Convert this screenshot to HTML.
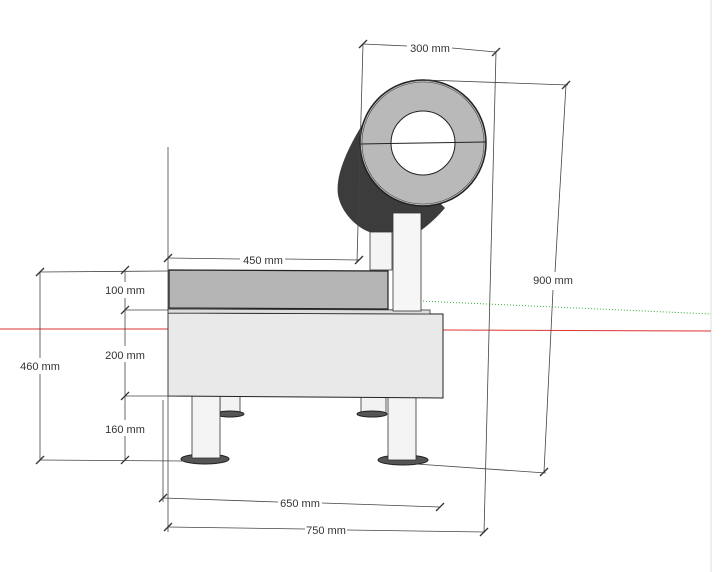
<!DOCTYPE html>
<html><head><meta charset="utf-8"><style>
html,body{margin:0;padding:0;background:#fff;}
svg{display:block;font-family:"Liberation Sans","DejaVu Sans",sans-serif;}
text{font-size:11px;fill:#333;}
</style></head><body>
<svg width="725" height="572" viewBox="0 0 725 572">
<rect width="725" height="572" fill="#fff"/>
<line x1="711" y1="0" x2="711" y2="572" stroke="#ddd" stroke-width="1"/>
<line x1="0" y1="329" x2="168" y2="329" stroke="#d33" stroke-width="1"/>
<line x1="443" y1="330" x2="711" y2="331" stroke="#d33" stroke-width="1"/>
<line x1="420" y1="301" x2="711" y2="314" stroke="#3a3" stroke-width="1" stroke-dasharray="1,2"/>
<rect x="220" y="396" width="20" height="17" fill="#f2f2f2" stroke="#333" stroke-width="0.8"/>
<ellipse cx="230" cy="414" rx="14" ry="3" fill="#555" stroke="#222"/>
<rect x="361" y="396" width="25" height="17" fill="#f2f2f2" stroke="#333" stroke-width="0.8"/>
<ellipse cx="372" cy="414" rx="15" ry="3" fill="#555" stroke="#222"/>
<ellipse cx="205" cy="459" rx="24" ry="5" fill="#555" stroke="#222"/>
<rect x="192" y="396" width="28" height="62" fill="#f4f4f4" stroke="#333" stroke-width="0.8"/>
<ellipse cx="403" cy="460" rx="25" ry="5" fill="#555" stroke="#222"/>
<rect x="388" y="396" width="28" height="64" fill="#f4f4f4" stroke="#333" stroke-width="0.8"/>
<polygon points="168,313 443,314 443,398 168,396" fill="#e9e9e9" stroke="#222" stroke-width="1"/>
<polygon points="168,309 430,310 430,314 168,313" fill="#ddd" stroke="#333" stroke-width="0.8"/>
<path d="M362,125 C348,148 335,175 338,195 C341,212 356,228 372,233 L420,231 C430,224 438,216 445,208 Z" fill="#3c3c3c"/>
<rect x="370" y="232" width="22" height="38" fill="#f4f4f4" stroke="#333" stroke-width="0.8"/>
<polygon points="169,270 388,271 388,309 169,308" fill="#b5b5b5" stroke="#222" stroke-width="1.2"/>
<rect x="393" y="213" width="28" height="98" fill="#f6f6f6" stroke="#333" stroke-width="0.8"/>
<circle cx="423" cy="143" r="63" fill="#b9b9b9" stroke="#222" stroke-width="1.5"/>
<circle cx="423" cy="143" r="61" fill="none" stroke="#444" stroke-width="0.6"/>
<circle cx="423" cy="143" r="32" fill="#fff" stroke="#222" stroke-width="1"/>
<line x1="360" y1="144" x2="486" y2="142" stroke="#222" stroke-width="1"/>
<g stroke="#444" stroke-width="0.8" fill="none">
 <line x1="168" y1="147" x2="168" y2="532"/>
 <line x1="163" y1="400" x2="163" y2="502"/>
 <line x1="363" y1="44" x2="357" y2="262"/>
 <line x1="496" y1="52" x2="484" y2="533"/>
 <line x1="425" y1="80" x2="568" y2="85"/>
 <line x1="416" y1="464" x2="546" y2="473"/>
 <line x1="566" y1="85" x2="555" y2="272"/><line x1="553" y1="290" x2="544" y2="472"/>
 <line x1="363" y1="44" x2="407" y2="46"/><line x1="452" y1="48" x2="496" y2="52"/>
 <line x1="168" y1="258" x2="240" y2="259"/><line x1="285" y1="259" x2="359" y2="260"/>
 <line x1="163" y1="498" x2="278" y2="502"/><line x1="322" y1="503" x2="440" y2="507"/>
 <line x1="168" y1="527" x2="305" y2="529"/><line x1="347" y1="530" x2="484" y2="532"/>
 <line x1="40" y1="272" x2="40" y2="358"/><line x1="40" y1="374" x2="40" y2="460"/>
 <line x1="125" y1="270" x2="125" y2="282"/><line x1="125" y1="298" x2="125" y2="346"/><line x1="125" y1="362" x2="125" y2="420"/><line x1="125" y1="436" x2="125" y2="460"/>
 <line x1="40" y1="272" x2="168" y2="271"/>
 <line x1="40" y1="460" x2="185" y2="461"/>
 <line x1="125" y1="310" x2="168" y2="310"/>
 <line x1="125" y1="396" x2="168" y2="396"/>
</g>
<g stroke="#333" stroke-width="1.3">
 <line x1="359" y1="48" x2="367" y2="40"/><line x1="492" y1="56" x2="500" y2="48"/>
 <line x1="164" y1="262" x2="172" y2="254"/><line x1="355" y1="264" x2="363" y2="256"/>
 <line x1="562" y1="89" x2="570" y2="81"/><line x1="540" y1="476" x2="548" y2="468"/>
 <line x1="159" y1="502" x2="167" y2="494"/><line x1="436" y1="511" x2="444" y2="503"/>
 <line x1="164" y1="531" x2="172" y2="523"/><line x1="480" y1="536" x2="488" y2="528"/>
 <line x1="36" y1="276" x2="44" y2="268"/><line x1="36" y1="464" x2="44" y2="456"/>
 <line x1="121" y1="274" x2="129" y2="266"/><line x1="121" y1="314" x2="129" y2="306"/><line x1="121" y1="400" x2="129" y2="392"/><line x1="121" y1="464" x2="129" y2="456"/>
</g>
<text x="430" y="52" text-anchor="middle">300 mm</text>
<text x="263" y="264" text-anchor="middle">450 mm</text>
<text x="553" y="284" text-anchor="middle">900 mm</text>
<text x="125" y="294" text-anchor="middle">100 mm</text>
<text x="125" y="359" text-anchor="middle">200 mm</text>
<text x="125" y="433" text-anchor="middle">160 mm</text>
<text x="40" y="370" text-anchor="middle">460 mm</text>
<text x="300" y="507" text-anchor="middle">650 mm</text>
<text x="326" y="534" text-anchor="middle">750 mm</text>
</svg>
</body></html>
